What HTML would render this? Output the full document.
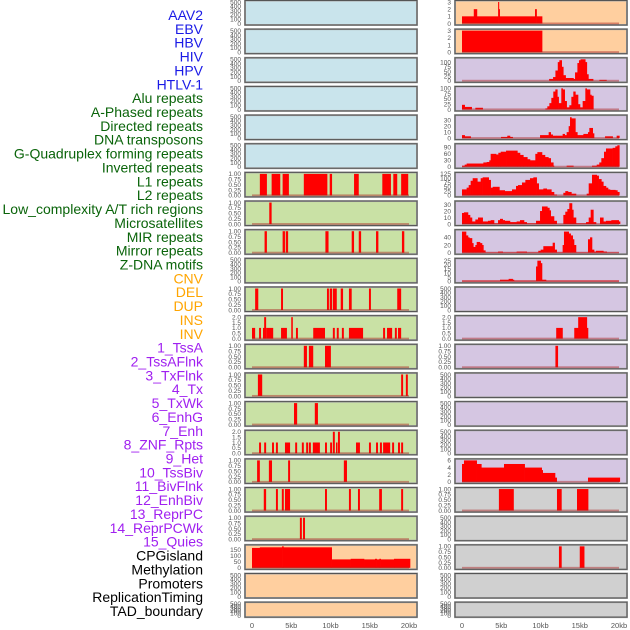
<!DOCTYPE html>
<html><head><meta charset="utf-8">
<style>
html,body{margin:0;padding:0;background:#fff;width:630px;height:630px;overflow:hidden}
svg{display:block;font-family:"Liberation Sans",sans-serif}
</style></head>
<body>
<svg id="chart" width="630" height="630" viewBox="0 0 630 630"></svg>
<script>
// ---- track labels ----
const labels=["AAV2","EBV","HBV","HIV","HPV","HTLV-1","Alu repeats","A-Phased repeats","Directed repeats","DNA transposons","G-Quadruplex forming repeats","Inverted repeats","L1 repeats","L2 repeats","Low_complexity A/T rich regions","Microsatellites","MIR repeats","Mirror repeats","Z-DNA motifs","CNV","DEL","DUP","INS","INV","1_TssA","2_TssAFlnk","3_TxFlnk","4_Tx","5_TxWk","6_EnhG","7_Enh","8_ZNF_Rpts","9_Het","10_TssBiv","11_BivFlnk","12_EnhBiv","13_ReprPC","14_ReprPCWk","15_Quies","CPGisland","Methylation","Promoters","ReplicationTiming","TAD_boundary"];
const labelColors=["#1a1ae6","#1a1ae6","#1a1ae6","#1a1ae6","#1a1ae6","#1a1ae6","#0a640a","#0a640a","#0a640a","#0a640a","#0a640a","#0a640a","#0a640a","#0a640a","#0a640a","#0a640a","#0a640a","#0a640a","#0a640a","#ffa500","#ffa500","#ffa500","#ffa500","#ffa500","#a020f0","#a020f0","#a020f0","#a020f0","#a020f0","#a020f0","#a020f0","#a020f0","#a020f0","#a020f0","#a020f0","#a020f0","#a020f0","#a020f0","#a020f0","#000","#000","#000","#000","#000"];
const xTickValues=[0,5,10,15,20];
const xTickLabels=["0","5kb","10kb","15kb","20kb"];

// ---- left column interval tracks (kb start, kb end, value) ----
const L6_start=[1.0,2.5,3.9,6.6,9.9,13.0,16.6,18.0,19.0];
const L6_end=[1.9,3.6,4.7,9.6,10.2,13.6,17.7,18.5,19.9];
const L7_start=[2.2];
const L7_end=[2.5];
const L8_start=[1.6,3.9,4.3,9.35,12.7,13.6,15.8,19.1];
const L8_end=[1.9,4.2,4.6,9.75,13.0,13.9,16.1,19.4];
const L10_start=[0.4,3.7,9.55,9.9,10.3,11.3,12.35,14.9,18.5];
const L10_end=[0.8,3.95,9.8,10.2,10.8,11.6,12.7,15.15,19.0];
const L11_start=[0,0.9,1.4,1.55,1.8,3.7,5.0,5.6,7.8,10.3,10.8,11.45,12.35,16.7,17.2,18.2,18.6];
const L11_end=[0.4,1.15,1.55,1.8,2.7,4.45,5.2,5.85,9.3,10.55,11.05,11.7,14.15,16.95,17.85,18.45,19.0];
const L11_val=[1,1,1,2,1,1,2,1,1,1,1,1,1,1,1,1,1];
const L12_start=[6.6,7.25,9.3];
const L12_end=[7.0,7.8,10.05];
const L13_start=[0.75,19.0,19.6];
const L13_end=[1.3,19.25,19.85];
const L14_start=[5.35,8.0];
const L14_end=[5.75,8.4];
const L15_start=[0.9,1.55,2.55,3.05,4.2,5.5,6.35,6.9,7.25,7.75,9.3,9.95,10.3,10.7,10.95,13.25,14.9,15.8,16.3,16.7,17.85,18.6,19.0];
const L15_end=[1.15,1.8,2.8,3.3,4.85,5.75,6.6,7.15,7.5,8.65,9.55,10.2,10.55,10.8,11.2,13.75,15.15,16.05,16.55,17.6,18.1,18.85,19.25];
const L15_val=[1,1,1,1,1,1,1,1,1,1,1,1,2,1,2,1,1,1,1,1,1,1,1];
const L16_start=[0.65,2.15,4.6,11.7];
const L16_end=[1.0,2.55,4.85,12.1];
const L17_start=[1.5,3.05,3.8,4.2,9.3,12.35,13.5,16.2,19.0];
const L17_end=[1.8,3.3,4.05,4.85,9.55,12.6,13.75,16.55,19.25];
const L18_start=[6.1,6.5];
const L18_end=[6.35,6.75];
const L19_breaks=[0,1.0,3.83,4.0,10.15,12.57,14.27,15.67,15.88,16.22,16.39,18.09,20.13];
const L19_vals=[165,170,178,170,70,75,70,75,70,75,70,75];

// ---- right column step tracks (kb breaks, values) ----
const R0_breaks=[0,1.5,1.9,4.6,4.7,4.8,9.3,9.5,10.2];
const R0_vals=[1,2,1,3,2,1,2,1];
const R1_breaks=[0,10.2];
const R1_vals=[3];
const R2_breaks=[11.1,11.6,11.9,12.2,12.4,12.7,12.9,13.2,14.2,14.4,14.7,14.9,15.1,15.7,15.9,16.1,16.7,17.5,18.4];
const R2_vals=[10,20,55,100,110,75,30,15,10,45,95,110,115,100,35,10,0,5];
const R3_breaks=[0,.34,1.23,1.7,2.63,10.62,10.87,11.13,11.38,11.63,11.89,12.14,12.31,12.65,12.82,13.08,13.33,13.67,13.93,14.18,14.44,14.78,15.03,15.37,15.71,15.88,16.31,16.48,16.73];
const R3_vals=[22,12,0,8,0,5,15,30,55,85,95,60,30,100,95,40,10,20,60,85,70,25,10,40,100,95,70,65];
const R4_breaks=[0,.34,1.1,4.97,5.77,6.11,6.45,9.94,11.04,11.3,11.55,12.06,12.82,13.08,13.33,13.59,13.76,13.93,14.44,14.69,14.95,15.46,16.05,16.22,16.65,16.82,18.22,19.19,19.7,20.04];
const R4_vals=[5,3,0,2,4,2,0,5,10,6,4,4,7,5,10,20,35,33,10,5,5,7,10,17,8,0,3,0,4];
const R5_breaks=[0,.34,.59,2.29,2.72,3.14,3.48,3.65,4.33,4.63,4.93,5.61,7.05,7.39,7.81,8.32,8.66,9.34,9.6,10.19,10.57,11.0,11.3,11.63,11.72,13.33,14.18,16.56,17.16,17.49,17.75,18.09,18.34,19.19,19.53,19.79,20.04];
const R5_vals=[5,10,15,15,20,22,30,60,57,65,70,75,65,55,45,35,30,60,68,55,45,40,20,5,0,5,0,5,10,20,40,70,85,88,95,100];
const R6_breaks=[0,.59,.85,1.1,1.36,1.95,2.38,2.63,3.4,3.65,3.91,4.76,5.44,6.37,6.88,7.13,7.64,8.07,8.66,9.09,9.51,9.77,10.36,10.79,11.38,11.72,12.06,12.91,13.16,13.5,13.93,14.52,15.88,16.14,16.56,17.16,17.41,17.75,18.0,18.34,18.6,18.85,19.53,19.79,20.04];
const R6_vals=[35,45,60,85,100,80,100,105,90,45,50,30,25,35,55,60,75,90,100,105,70,35,40,35,20,5,0,15,25,20,10,0,10,70,120,115,95,80,55,45,35,32,30,20];
const R7_breaks=[0,.25,.76,1.02,1.27,1.7,2.04,2.63,3.31,3.65,4.08,4.59,4.84,5.18,5.44,6.11,6.96,7.39,7.9,8.24,9.43,9.94,10.19,10.87,11.13,11.3,11.72,12.06,12.91,13.16,13.42,13.67,14.01,14.18,14.52,15.8,16.14,16.39,16.73,17.07,17.58,18.0,18.34,19.02,19.96,20.13];
const R7_vals=[17,18,14,10,4,7,10,4,5,6,1,6,8,6,5,3,4,6,3,1,5,20,27,25,21,12,5,0,14,19,23,32,22,10,1,3,10,22,3,0,10,4,5,6,4];
const R8_breaks=[0,.51,.76,.93,1.27,1.44,1.7,1.87,2.29,2.55,2.72,2.97,4.59,5.18,6.96,8.24,9.72,10.02,10.36,11.55,11.8,12.06,12.82,12.99,13.59,13.84,14.1,14.27,14.52,16.05,16.31,16.56,16.82,17.07,18.0,18.43,19.96];
const R8_vals=[55,45,40,38,25,15,20,28,25,20,6,1,3,1,3,1,5,8,17,26,8,1,20,55,50,45,35,20,1,35,40,8,3,5,3,1];
const R9_breaks=[0,4.84,5.94,6.45,6.62,9.43,9.6,10.02,10.19,10.7,19.96];
const R9_vals=[1,2,3,2,1,18,25,22,2,1];
const R11_breaks=[12.0,12.8,14.3,14.8,15.9,16.05];
const R11_vals=[1,0,1,2,1];
const R12_breaks=[11.9,12.2];
const R12_vals=[1];
const R16_breaks=[0,.25,1.87,2.46,5.35,7.98,10.15,10.28,11.85,12.06,16.05,20.1];
const R16_vals=[5,6,5,4,5,4,3.3,2.5,1.2,0,1.2];
const R17_start=[4.7,12.1,14.65];
const R17_end=[6.6,12.7,16.1];
const R19_start=[12.35,15.0];
const R19_end=[12.7,15.6];

// ---- tick label sets ----
const T500=["0","100","200","300","400","500"], T500v=[0,100,200,300,400,500];
const T1=["0.00","0.25","0.50","0.75","1.00"], T1v=[0,.25,.5,.75,1];
const T2=["0.0","0.5","1.0","1.5","2.0"], T2v=[0,.5,1,1.5,2];
const T3=["0","1","2","3"], T3v=[0,1,2,3];

const BLUE="#c9e4ec",GREEN="#c9e1a5",PEACH="#ffcf9f",PURPLE="#d5c6e2",GRAY="#d0d0d0";
const iv=(s,e,v)=>({type:"iv",s:s,e:e,v:v||s.map(()=>1)});
const st=(b,v)=>({type:"st",b:b,v:v});
const leftPanels=[
 [BLUE,500,T500v,T500,null],[BLUE,500,T500v,T500,null],[BLUE,500,T500v,T500,null],
 [BLUE,500,T500v,T500,null],[BLUE,500,T500v,T500,null],[BLUE,500,T500v,T500,null],
 [GREEN,1,T1v,T1,iv(L6_start,L6_end)],[GREEN,1,T1v,T1,iv(L7_start,L7_end)],
 [GREEN,1,T1v,T1,iv(L8_start,L8_end)],[GREEN,500,T500v,T500,null],
 [GREEN,1,T1v,T1,iv(L10_start,L10_end)],[GREEN,2,T2v,T2,iv(L11_start,L11_end,L11_val)],
 [GREEN,1,T1v,T1,iv(L12_start,L12_end)],[GREEN,1,T1v,T1,iv(L13_start,L13_end)],
 [GREEN,1,T1v,T1,iv(L14_start,L14_end)],[GREEN,2,T2v,T2,iv(L15_start,L15_end,L15_val)],
 [GREEN,1,T1v,T1,iv(L16_start,L16_end)],[GREEN,1,T1v,T1,iv(L17_start,L17_end)],
 [GREEN,1,T1v,T1,iv(L18_start,L18_end)],[PEACH,178,[0,50,100,150],["0","50","100","150"],st(L19_breaks,L19_vals)],
 [PEACH,500,T500v,T500,null],[PEACH,500,T500v,T500,null]
];
const rightPanels=[
 [PEACH,3,T3v,T3,st(R0_breaks,R0_vals)],[PEACH,3,T3v,T3,st(R1_breaks,R1_vals)],
 [PURPLE,115,[0,25,50,75,100],["0","25","50","75","100"],st(R2_breaks,R2_vals)],
 [PURPLE,102,[0,25,50,75,100],["0","25","50","75","100"],st(R3_breaks,R3_vals)],
 [PURPLE,36,[0,10,20,30],["0","10","20","30"],st(R4_breaks,R4_vals)],
 [PURPLE,100,[0,30,60,90],["0","30","60","90"],st(R5_breaks,R5_vals)],
 [PURPLE,125,[0,25,50,75,100,125],["0","25","50","75","100","125"],st(R6_breaks,R6_vals)],
 [PURPLE,33,[0,10,20,30],["0","10","20","30"],st(R7_breaks,R7_vals)],
 [PURPLE,56,[0,20,40],["0","20","40"],st(R8_breaks,R8_vals)],
 [PURPLE,26,[0,5,10,15,20,25],["0","5","10","15","20","25"],st(R9_breaks,R9_vals)],
 [PURPLE,500,T500v,T500,null],[PURPLE,2,T2v,T2,st(R11_breaks,R11_vals)],
 [PURPLE,1,T1v,T1,st(R12_breaks,R12_vals)],[PURPLE,500,T500v,T500,null],
 [PURPLE,500,T500v,T500,null],[PURPLE,500,T500v,T500,null],
 [PURPLE,6,[0,2,4,6],["0","2","4","6"],st(R16_breaks,R16_vals)],
 [GRAY,1,T1v,T1,iv(R17_start,R17_end)],[GRAY,500,T500v,T500,null],
 [GRAY,1,T1v,T1,iv(R19_start,R19_end)],[GRAY,500,T500v,T500,null],[GRAY,500,T500v,T500,null]
];

const NS="http://www.w3.org/2000/svg";
const svg=document.getElementById("chart");
function mk(tag,attrs,parent){const e=document.createElementNS(NS,tag);for(const k in attrs)e.setAttribute(k,attrs[k]);(parent||svg).appendChild(e);return e;}

labels.forEach((t,i)=>{
  const e=mk("text",{x:203,y:15+13.86*i+5,"text-anchor":"end","font-size":"14",fill:labelColors[i]});
  e.textContent=t;
  
  
});

const cols=[{x0:245,x1:417,ox:252,tx:241,panels:leftPanels,name:"left"},{x0:455,x1:627,ox:462,tx:451,panels:rightPanels,name:"right"}];
const KB=7.85;
cols.forEach(c=>{
  const xs=kb=>c.ox+kb*KB;
  c.panels.forEach((p,i)=>{
    const [bg,max,tv,tl,data]=p;
    const top=0.5+28.65*i, h=(i===21?15:24.5);
    const g=mk("g",{});
    
    
    mk("rect",{x:c.x0,y:top,width:c.x1-c.x0,height:h,fill:bg,stroke:"#aaa","stroke-width":2},g);
    const base=top+h-1.5, ptop=top+1.5;
    const ys=v=>base-v/max*(base-ptop);
    tv.forEach((v,k)=>{
      const t=mk("text",{x:c.tx,y:ys(v)+2.3,"text-anchor":"end","font-size":"6.5",fill:"#555"},g);
      t.textContent=tl[k];
      
      
    });
    if(data){
      const bars=mk("g",{fill:"#ff0000"},g);
      if(data.type==="iv"){
        data.s.forEach((s,k)=>{
          const r=mk("rect",{x:xs(s),y:ys(data.v[k]),width:Math.max(1.5,xs(data.e[k])-xs(s)),height:base-ys(data.v[k])},bars);
          
          
        });
      }else{
        data.v.forEach((v,k)=>{
          if(v<=0)return;
          const r=mk("rect",{x:xs(data.b[k]),y:ys(v),width:xs(data.b[k+1])-xs(data.b[k])+0.3,height:base-ys(v)},bars);
          
          
        });
      }
      const bl=mk("rect",{x:xs(0),y:base-1,width:xs(20)-xs(0),height:1.8,fill:"rgba(170,30,30,0.45)"},g);
      
      
    }
    mk("rect",{x:c.x0,y:top,width:c.x1-c.x0,height:h,fill:"none",stroke:"#555","stroke-width":1},g);
  });
  xTickValues.forEach((v,k)=>{
    const t=mk("text",{x:xs(v),y:628,"text-anchor":"middle","font-size":"7.5",fill:"#555"});
    t.textContent=xTickLabels[k];
    
    
  });
});
</script>
</body></html>
